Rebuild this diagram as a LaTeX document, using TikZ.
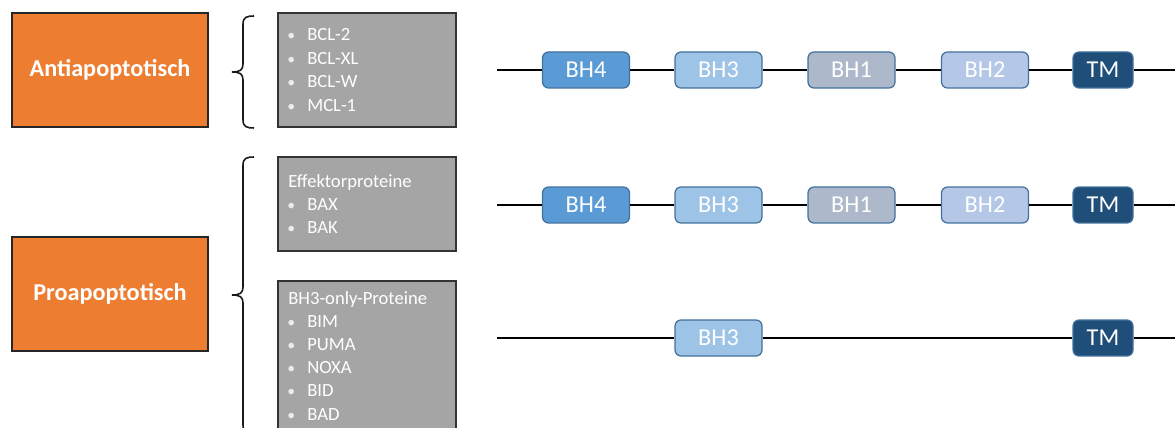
\documentclass[tikz,border=0pt]{standalone}
\usepackage{fontspec}
\setmainfont{Carlito}
\definecolor{catorange}{HTML}{ED7D31}
\definecolor{listgray}{HTML}{A5A5A5}
\definecolor{frameblue}{HTML}{41719C}
\definecolor{cBHfour}{HTML}{5B9BD5}
\definecolor{cBHthree}{HTML}{9DC3E6}
\definecolor{cBHone}{HTML}{ADB9CA}
\definecolor{cBHtwo}{HTML}{B4C7E7}
\definecolor{cTM}{HTML}{1F4E79}
\begin{document}
\begin{tikzpicture}[x=0.02cm,y=-0.02cm,
  catbox/.style={draw=black!85,line width=0.7pt,fill=catorange,inner sep=0,
    minimum width=3.92cm,minimum height=2.28cm,text=white,
    font=\fontsize{13.8}{16}\selectfont\bfseries},
  listbox/.style={draw=black!80,line width=0.8pt,fill=listgray,inner sep=0,
    minimum width=3.56cm},
  listline/.style={anchor=base west,inner sep=0,text=white,
    font=\fontsize{10.6}{12}\selectfont},
  bulletmark/.style={anchor=base west,inner sep=0,text=white!92!black,
    font=\fontsize{9}{12}\selectfont},
  domainbox/.style={draw=frameblue,line width=0.7pt,rounded corners=0.12cm,
    inner sep=0,minimum height=0.72cm,minimum width=1.74cm,text=white,
    font=\fontsize{13.8}{16}\selectfont},
  tmbox/.style={domainbox,minimum width=1.2cm,fill=cTM},
  backbone/.style={line width=1.1pt,black},
  bracepath/.style={line width=0.9pt,black!90}]
\useasboundingbox (0,0) rectangle (1175,428);
\clip (0,0) rectangle (1175,428);

% category boxes
\node[catbox] (anti) at (110,70) {Antiapoptotisch};
\node[catbox] (pro) at (110,294) {Proapoptotisch};

% braces
\draw[bracepath] (254,16) .. controls (247,16) and (243,17) .. (243,24)
  -- (243,64) .. controls (243,70) and (240,72) .. (232,72)
  .. controls (240,72) and (243,74) .. (243,80)
  -- (243,120) .. controls (243,127) and (247,128) .. (254,128);
\draw[bracepath] (254,157) .. controls (247,157) and (243,158) .. (243,165)
  -- (243,287) .. controls (243,293) and (240,295) .. (232,295)
  .. controls (240,295) and (243,297) .. (243,303)
  -- (243,425) .. controls (243,432) and (247,433) .. (254,433);

% protein lists
\node[listbox,minimum height=2.28cm] (antilist) at (367,70) {};
\node[listbox,minimum height=1.88cm] (efflist) at (367,204) {};
\node[listbox,minimum height=3.18cm] (bh3list) at (367,360.5) {};

\foreach \name/\yy in {BCL-2/41,BCL-XL/64.5,BCL-W/88,MCL-1/111.5}{
  \node[bulletmark] (b\yy) at (287,\yy) {•};
  \node[listline] (t\yy) at (307,\yy) {\name};
}
\node[listline] (effhead) at (288,187.5) {Effektorproteine};
\foreach \name/\yy in {BAX/210.5,BAK/233.5}{
  \node[bulletmark] (b\yy) at (287,\yy) {•};
  \node[listline] (t\yy) at (307,\yy) {\name};
}
\node[listline] (bh3head) at (288,305) {BH3-only-Proteine};
\foreach \name/\yy in {BIM/328,PUMA/351,NOXA/374,BID/397,BAD/420}{
  \node[bulletmark] (b\yy) at (287,\yy) {•};
  \node[listline] (t\yy) at (307,\yy) {\name};
}

% domain rows
\foreach \r/\yy in {a/70,b/205}{
  \coordinate (s\r) at (497,\yy);
  \coordinate (e\r) at (1175,\yy);
  \node[domainbox,fill=cBHfour] (bhfour\r) at (586,\yy) {BH4};
  \node[domainbox,fill=cBHthree] (bhthree\r) at (718.5,\yy) {BH3};
  \node[domainbox,fill=cBHone] (bhone\r) at (851.5,\yy) {BH1};
  \node[domainbox,fill=cBHtwo] (bhtwo\r) at (985,\yy) {BH2};
  \node[tmbox] (tm\r) at (1103,\yy) {TM};
  \draw[backbone] (s\r) -- (bhfour\r) (bhfour\r) -- (bhthree\r)
    (bhthree\r) -- (bhone\r) (bhone\r) -- (bhtwo\r)
    (bhtwo\r) -- (tm\r) (tm\r) -- (e\r);
}
\coordinate (sc) at (497,338);
\coordinate (ec) at (1175,338);
\node[domainbox,fill=cBHthree] (bhthreec) at (718.5,338) {BH3};
\node[tmbox] (tmc) at (1103,338) {TM};
\draw[backbone] (sc) -- (bhthreec) (bhthreec) -- (tmc) (tmc) -- (ec);
\end{tikzpicture}
\end{document}
